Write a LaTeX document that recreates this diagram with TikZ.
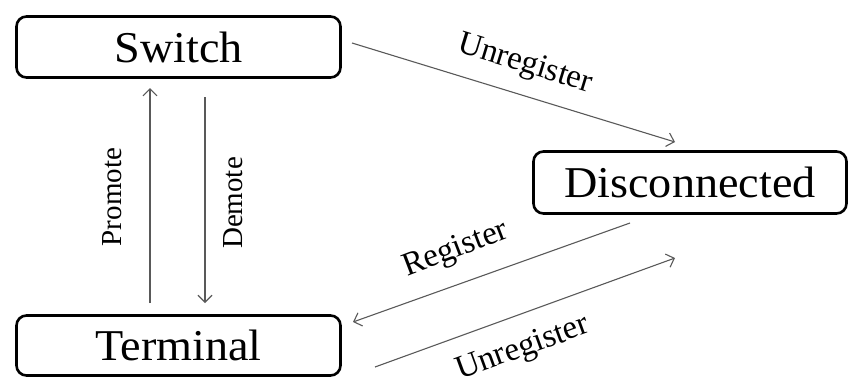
\documentclass[tikz,border=0pt]{standalone}
\usepackage{fontspec}
\setmainfont{Liberation Serif}
\usetikzlibrary{arrows.meta}
\begin{document}
\begin{tikzpicture}[x=1pt,y=-1pt,
  state/.style={draw=black, line width=2.6pt, rounded corners=10pt, inner sep=0pt,
    font=\fontsize{44}{48}\selectfont, fill=white},
  arr/.style={draw=black!65, line width=1.1pt, -{Straight Barb[length=7pt,width=14pt,line width=1.1pt]}},
  lbl/.style={font=\fontsize{29}{32}\selectfont, inner sep=0pt},
  dlbl/.style={font=\fontsize{33}{36}\selectfont, inner sep=0pt}]
\useasboundingbox (0,0) rectangle (849,378);
\node[state, minimum width=324pt, minimum height=61pt] (S) at (178.5,47) {\scalebox{1.05}[1]{Switch}};
\node[state, minimum width=324pt, minimum height=60pt] (T) at (178.5,345.5) {\scalebox{1.05}[1]{Terminal}};
\node[state, minimum width=313pt, minimum height=62pt] (D) at (690,182.5) {\scalebox{1.05}[1]{Disconnected}};
\coordinate (p1) at (150,303);
\coordinate (p2) at (150,88);
\coordinate (d1) at (205,97);
\coordinate (d2) at (205,303);
\coordinate (u1) at (352,43);
\coordinate (u2) at (675,142);
\coordinate (r1) at (630,223);
\coordinate (r2) at (353,322);
\coordinate (v1) at (375,367);
\coordinate (v2) at (675,258);
\draw[arr] (p1) -- (p2);
\draw[arr] (d1) -- (d2);
\draw[arr] (u1) -- (u2);
\draw[arr] (r1) -- (r2);
\draw[arr] (v1) -- (v2);
\node[lbl, rotate=90] (lp) at (112,197) {Promote};
\node[lbl, rotate=90] (ld) at (233,203) {Demote};
\node[dlbl, rotate=-17] (lu) at (525,65) {Unregister};
\node[dlbl, rotate=21] (lr) at (456,250) {Register};
\node[dlbl, rotate=20] (lv) at (523,349) {Unregister};
\end{tikzpicture}
\end{document}
